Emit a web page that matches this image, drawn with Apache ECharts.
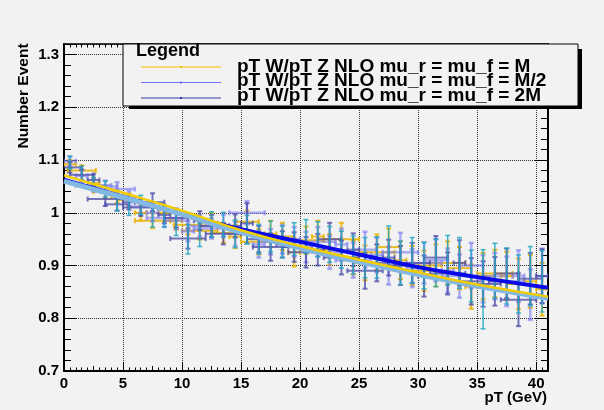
<!DOCTYPE html>
<html>
<head>
<meta charset="utf-8">
<script src="https://cdn.jsdelivr.net/npm/echarts@6/dist/echarts.min.js"></script>
<style>
  html, body { margin: 0; padding: 0; background: #f2f2f2; }
  #chart { width: 604px; height: 410px; }
</style>
</head>
<body>
<div id="chart"></div>
<script>
// bin centres in pT (GeV)
const pt = [0.5, 1.5, 2.5, 3.5, 4.5, 5.5, 6.5, 7.5, 8.5, 9.5, 10.5, 11.5, 12.5, 13.5, 14.5,
  15.5, 16.5, 17.5, 18.5, 19.5, 20.5, 21.5, 22.5, 23.5, 24.5, 25.5, 26.5, 27.5, 28.5, 29.5,
  30.5, 31.5, 32.5, 33.5, 34.5, 35.5, 36.5, 37.5, 38.5, 39.5, 40.5];

// mu_r = mu_f = M  (yellow)
const valM = [1.092, 1.080, 1.056, 1.040, 1.030, 1.024, 1.000, 0.985, 1.000, 0.985, 0.977, 0.966, 0.980, 0.962, 0.955,
  0.983, 0.945, 0.960, 0.955, 0.925, 0.948, 0.955, 0.930, 0.950, 0.915, 0.905, 0.925, 0.935, 0.910, 0.900,
  0.890, 0.900, 0.905, 0.895, 0.860, 0.880, 0.885, 0.880, 0.865, 0.870, 0.855];
const errM = [0.008, 0.010, 0.010, 0.012, 0.011, 0.013, 0.015, 0.014, 0.016, 0.017, 0.018, 0.017, 0.020, 0.019, 0.022,
  0.021, 0.024, 0.025, 0.026, 0.027, 0.026, 0.030, 0.029, 0.031, 0.032, 0.033, 0.034, 0.035, 0.036, 0.037,
  0.038, 0.040, 0.041, 0.040, 0.042, 0.044, 0.045, 0.046, 0.048, 0.050, 0.050];
const widM = [0.5, 1.2, 0.5, 1.0, 0.5, 1.0, 0.5, 1.5, 0.5, 0.5, 1.2, 1.5, 0.5, 1.0, 0.5,
  1.0, 1.5, 0.5, 1.0, 0.5, 1.5, 0.5, 1.0, 1.5, 0.5, 1.0, 1.5, 1.0, 0.5, 1.5,
  1.0, 0.5, 1.5, 1.0, 0.5, 1.0, 1.5, 0.5, 1.0, 0.5, 0.5];

// mu_r = mu_f = M/2  (light blue)
const valHalf = [1.098, 1.070, 1.052, 1.050, 1.045, 1.028, 1.012, 1.000, 0.990, 0.985, 0.965, 0.975, 0.970, 0.975, 0.960,
  1.000, 0.940, 0.945, 0.950, 0.945, 0.935, 0.945, 0.925, 0.940, 0.910, 0.930, 0.920, 0.900, 0.925, 0.895,
  0.905, 0.910, 0.890, 0.880, 0.900, 0.875, 0.880, 0.870, 0.880, 0.845, 0.880];
const errHalf = [0.009, 0.011, 0.012, 0.011, 0.013, 0.014, 0.014, 0.016, 0.017, 0.016, 0.019, 0.020, 0.019, 0.021, 0.023,
  0.022, 0.025, 0.024, 0.027, 0.028, 0.029, 0.028, 0.031, 0.030, 0.033, 0.034, 0.033, 0.036, 0.037, 0.036,
  0.039, 0.040, 0.042, 0.041, 0.043, 0.045, 0.044, 0.047, 0.049, 0.048, 0.052];
const widHalf = [0.5, 0.5, 1.5, 1.0, 1.5, 0.5, 1.0, 0.5, 1.5, 1.0, 0.5, 1.0, 1.5, 0.5, 1.0,
  1.5, 0.5, 1.0, 1.5, 1.0, 0.5, 1.5, 1.0, 0.5, 1.5, 1.0, 0.5, 1.0, 1.5, 0.5,
  1.5, 1.0, 0.5, 1.5, 1.0, 0.5, 1.0, 1.5, 0.5, 1.0, 0.5];

// mu_r = mu_f = 2M  (dark blue)
const valTwo = [1.086, 1.072, 1.062, 1.026, 1.016, 1.020, 1.010, 1.020, 0.996, 0.990, 0.951, 0.985, 0.975, 0.960, 0.975,
  0.980, 0.950, 0.935, 0.940, 0.935, 0.925, 0.930, 0.950, 0.915, 0.930, 0.890, 0.905, 0.915, 0.900, 0.905,
  0.880, 0.915, 0.885, 0.905, 0.870, 0.865, 0.870, 0.885, 0.835, 0.875, 0.880];
const errTwo = [0.010, 0.010, 0.011, 0.013, 0.012, 0.014, 0.016, 0.017, 0.016, 0.018, 0.019, 0.018, 0.021, 0.020, 0.022,
  0.038, 0.025, 0.026, 0.025, 0.028, 0.029, 0.030, 0.031, 0.032, 0.031, 0.034, 0.035, 0.034, 0.037, 0.038,
  0.039, 0.041, 0.040, 0.043, 0.044, 0.043, 0.046, 0.047, 0.050, 0.049, 0.051];
const widTwo = [1.0, 1.0, 0.5, 1.5, 1.0, 0.5, 1.5, 1.0, 0.5, 1.0, 1.5, 0.5, 1.0, 1.5, 0.5,
  0.5, 1.0, 1.5, 0.5, 1.0, 1.5, 0.5, 1.0, 1.5, 0.5, 1.5, 1.0, 0.5, 1.0, 1.5,
  0.5, 1.0, 1.5, 0.5, 1.0, 1.5, 0.5, 1.0, 1.5, 1.0, 0.5];

// extra cyan points (no horizontal bar)
const valCyan = [1.095, 1.075, 1.055, 1.045, 1.020, 1.012, 1.015, 0.992, 0.993, 0.978, 0.950, 0.958, 0.978, 0.978, 0.960,
  0.968, 0.950, 0.955, 0.945, 0.950, 0.955, 0.950, 0.940, 0.930, 0.920, 0.915, 0.915, 0.935, 0.905, 0.910,
  0.900, 0.905, 0.910, 0.905, 0.880, 0.855, 0.890, 0.880, 0.865, 0.880, 0.870];
const errCyan = [0.012, 0.013, 0.012, 0.015, 0.016, 0.017, 0.018, 0.019, 0.020, 0.021, 0.028, 0.022, 0.024, 0.023, 0.026,
  0.027, 0.028, 0.029, 0.030, 0.031, 0.032, 0.033, 0.034, 0.035, 0.036, 0.038, 0.039, 0.040, 0.041, 0.043,
  0.044, 0.045, 0.047, 0.048, 0.049, 0.075, 0.052, 0.053, 0.055, 0.056, 0.058];

// fit curves
const fitPt = [0, 5, 10, 15, 20, 25, 30, 35, 41];
const fitM = [1.071, 1.038, 1.004, 0.967, 0.937, 0.911, 0.887, 0.864, 0.841];
const fitHalf = [1.060, 1.029, 0.997, 0.963, 0.933, 0.907, 0.883, 0.861, 0.838];
const fitTwo = [1.063, 1.030, 0.997, 0.969, 0.945, 0.921, 0.897, 0.878, 0.858];

const legendNames = ['pT W/pT Z NLO mu_r = mu_f = M', 'pT W/pT Z NLO mu_r = mu_f = M/2', 'pT W/pT Z NLO mu_r = mu_f = 2M'];

const FONT = '"Liberation Sans", Arial, Helvetica, sans-serif';

const chart = echarts.init(document.getElementById('chart'));

// error bar drawing (horizontal + vertical with end caps)
function errorBars(color, opacity, width) {
    return function (params, api) {
        const x = api.value(0), y = api.value(1), ex = api.value(2), ey = api.value(3);
        const c = api.coord([x, y]);
        const l = api.coord([x - ex, y]);
        const r = api.coord([x + ex, y]);
        const t = api.coord([x, y + ey]);
        const b = api.coord([x, y - ey]);
        const st = {stroke: color, lineWidth: width, opacity: opacity};
        const kids = [
            {type: 'line', shape: {x1: c[0], y1: t[1], x2: c[0], y2: b[1]}, style: st},
            {type: 'line', shape: {x1: c[0] - 2.5, y1: t[1], x2: c[0] + 2.5, y2: t[1]}, style: st},
            {type: 'line', shape: {x1: c[0] - 2.5, y1: b[1], x2: c[0] + 2.5, y2: b[1]}, style: st}
        ];
        if (ex > 0) {
            kids.push({type: 'line', shape: {x1: l[0], y1: c[1], x2: r[0], y2: c[1]}, style: st});
            kids.push({type: 'line', shape: {x1: l[0], y1: c[1] - 2.5, x2: l[0], y2: c[1] + 2.5}, style: st});
            kids.push({type: 'line', shape: {x1: r[0], y1: c[1] - 2.5, x2: r[0], y2: c[1] + 2.5}, style: st});
        }
        return {type: 'group', children: kids};
    };
}

const pts = (vals, errs, wids) => pt.map((p, i) => [p, vals[i], wids ? wids[i] : 0, errs[i]]);
const fitData = vals => fitPt.map((p, i) => [p, vals[i]]);

const tickStyle = {color: '#000', width: 1};

chart.setOption({
    backgroundColor: '#f2f2f2',
    animation: false,
    grid: {left: 64, right: 56, top: 44, bottom: 39},
    xAxis: [{
        type: 'value', min: 0, max: 41, interval: 5,
        axisLine: {show: true, onZero: false, lineStyle: {color: '#000', width: 2}},
        axisTick: {inside: true, length: 9, lineStyle: tickStyle},
        minorTick: {show: true, splitNumber: 10, length: 3.5, lineStyle: tickStyle},
        axisLabel: {color: '#000', fontFamily: FONT, fontWeight: 'bold', fontSize: 15, margin: 5, showMaxLabel: false},
        splitLine: {show: true, lineStyle: {color: '#333', type: 'dotted', width: 1}}
    }, {
        // half-way ticks at 2.5
        type: 'value', min: 0, max: 41, interval: 2.5, position: 'bottom',
        axisLine: {show: false}, axisLabel: {show: false}, splitLine: {show: false},
        axisTick: {inside: true, length: 5, lineStyle: tickStyle}
    }, {
        type: 'value', min: 0, max: 41, interval: 5, position: 'top',
        axisLine: {show: true, lineStyle: {color: '#000', width: 1.5}},
        axisTick: {inside: true, length: 9, lineStyle: tickStyle},
        minorTick: {show: true, splitNumber: 10, length: 3.5, lineStyle: tickStyle},
        axisLabel: {show: false}, splitLine: {show: false}
    }],
    yAxis: [{
        type: 'value', min: 0.7, max: 1.32, interval: 0.1,
        axisLine: {show: true, onZero: false, lineStyle: {color: '#000', width: 2}},
        axisTick: {inside: true, length: 13, lineStyle: tickStyle},
        minorTick: {show: true, splitNumber: 5, length: 7, lineStyle: tickStyle},
        axisLabel: {color: '#000', fontFamily: FONT, fontWeight: 'bold', fontSize: 15, margin: 5, showMaxLabel: false},
        splitLine: {show: true, lineStyle: {color: '#333', type: 'dotted', width: 1}}
    }, {
        type: 'value', min: 0.7, max: 1.32, interval: 0.1, position: 'right',
        axisLine: {show: true, onZero: false, lineStyle: {color: '#000', width: 2}},
        axisTick: {inside: true, length: 13, lineStyle: tickStyle},
        minorTick: {show: true, splitNumber: 5, length: 7, lineStyle: tickStyle},
        axisLabel: {show: false}, splitLine: {show: false}
    }],
    series: [
        {type: 'custom', clip: true, renderItem: errorBars('#e8b400', 0.85, 2), data: pts(valM, errM, widM), z: 3},
        {type: 'custom', clip: true, renderItem: errorBars('#7c7cf0', 0.6, 2.5), data: pts(valHalf, errHalf, widHalf), z: 3},
        {type: 'custom', clip: true, renderItem: errorBars('#4a4aa8', 0.75, 2), data: pts(valTwo, errTwo, widTwo), z: 3},
        {type: 'custom', clip: true, renderItem: errorBars('#22a8c4', 0.85, 1.5), data: pts(valCyan, errCyan), z: 4},
        {type: 'line', data: fitData(fitTwo), smooth: true, showSymbol: false, z: 5,
            lineStyle: {color: '#0a0ae6', width: 4}},
        {type: 'line', data: fitData(fitHalf), smooth: true, showSymbol: false, z: 6,
            lineStyle: {color: '#82b8e2', width: 5}},
        {type: 'line', data: fitData(fitM), smooth: true, showSymbol: false, z: 7,
            lineStyle: {color: '#f0cc00', width: 2.5}}
    ],
    graphic: [
        // y axis title
        {type: 'text', x: 24, y: 96, rotation: Math.PI / 2, z: 10,
            style: {text: 'Number Event', font: 'bold 15.5px ' + FONT, fill: '#000', align: 'center', verticalAlign: 'middle'}},
        // x axis title
        {type: 'text', x: 547, y: 398, z: 10,
            style: {text: 'pT (GeV)', font: 'bold 15px ' + FONT, fill: '#000', align: 'right', verticalAlign: 'middle'}},
        // legend shadow + box
        {type: 'rect', shape: {x: 129, y: 49, width: 453, height: 60}, style: {fill: '#000'}, z: 20},
        {type: 'rect', shape: {x: 123, y: 44, width: 455, height: 62}, style: {fill: '#f2f2f2', stroke: '#000', lineWidth: 1}, z: 21},
        {type: 'text', x: 136, y: 51, z: 22,
            style: {text: 'Legend', font: 'bold 18px ' + FONT, fill: '#000', align: 'left', verticalAlign: 'middle'}},
        {type: 'line', shape: {x1: 141, y1: 67, x2: 221, y2: 67}, style: {stroke: '#f5c000', lineWidth: 1}, z: 22},
        {type: 'rect', shape: {x: 180, y: 66, width: 2, height: 2}, style: {fill: '#f5c000'}, z: 22},
        {type: 'line', shape: {x1: 141, y1: 82.5, x2: 221, y2: 82.5}, style: {stroke: '#7070ff', lineWidth: 1}, z: 22},
        {type: 'rect', shape: {x: 180, y: 81.5, width: 2, height: 2}, style: {fill: '#7070ff'}, z: 22},
        {type: 'line', shape: {x1: 141, y1: 98, x2: 221, y2: 98}, style: {stroke: '#3838b0', lineWidth: 1}, z: 22},
        {type: 'rect', shape: {x: 180, y: 97, width: 2, height: 2}, style: {fill: '#3838b0'}, z: 22},
        {type: 'text', x: 237, y: 67, z: 22,
            style: {text: legendNames[0], font: 'bold 19px ' + FONT, fill: '#000', align: 'left', verticalAlign: 'middle'}},
        {type: 'text', x: 237, y: 81, z: 22,
            style: {text: legendNames[1], font: 'bold 19px ' + FONT, fill: '#000', align: 'left', verticalAlign: 'middle'}},
        {type: 'text', x: 237, y: 95.5, z: 22,
            style: {text: legendNames[2], font: 'bold 19px ' + FONT, fill: '#000', align: 'left', verticalAlign: 'middle'}}
    ]
});
</script>
</body>
</html>
